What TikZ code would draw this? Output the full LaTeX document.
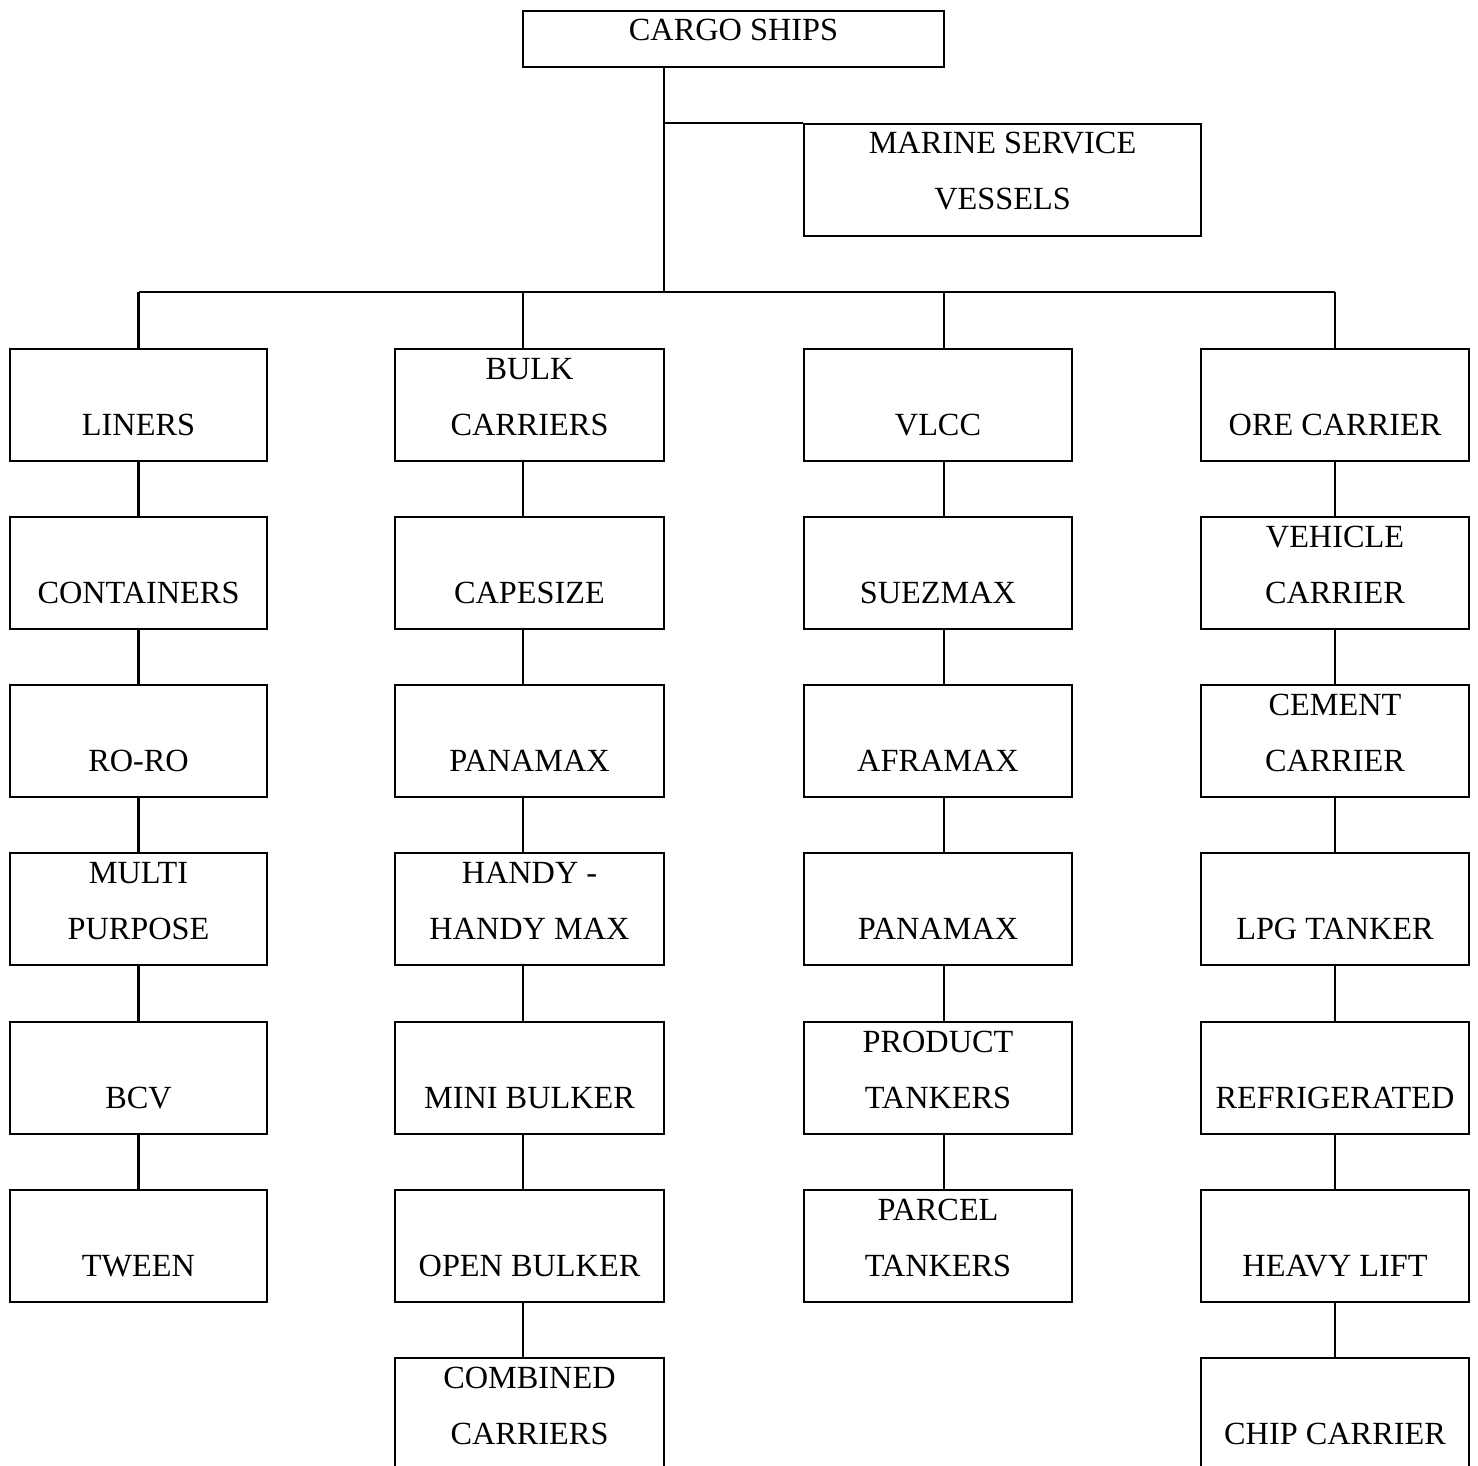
\documentclass[tikz,border=0pt]{standalone}
\usepackage{fontspec}
\setmainfont{Liberation Serif}

\tikzset{
  box/.style={draw, line width=2.2pt, inner sep=0pt, minimum width=268pt, minimum height=112pt,
    align=center, font=\fontsize{32.3}{56}\selectfont, text height=82pt, text depth=22pt},
  link/.style={line width=2.2pt}
}

\begin{document}
\begin{tikzpicture}[x=1pt,y=-1pt]

\useasboundingbox (0,0) rectangle (1478,1466);
\clip (0,0) rectangle (1478,1466);

%% top
\node[box, minimum width=421pt, minimum height=56pt, text height=22pt, text depth=19pt] (cargo) at (733.5,39) {CARGO SHIPS};
\node[box, minimum width=397pt] (marine) at (1002.5,180) {MARINE SERVICE\\VESSELS};

%% first column
\node[box, minimum width=257pt] (liners)     at (138.5,405)  {LINERS};
\node[box, minimum width=257pt] (containers) at (138.5,573)  {CONTAINERS};
\node[box, minimum width=257pt] (roro)       at (138.5,741)  {RO-RO};
\node[box, minimum width=257pt] (multi)      at (138.5,909)  {MULTI\\PURPOSE};
\node[box, minimum width=257pt] (bcv)        at (138.5,1078) {BCV};
\node[box, minimum width=257pt] (tween)      at (138.5,1246) {TWEEN};

%% second column
\node[box, minimum width=269pt] (bulk)     at (529.5,405)  {BULK\\CARRIERS};
\node[box, minimum width=269pt] (capesize) at (529.5,573)  {CAPESIZE};
\node[box, minimum width=269pt] (panamaxB) at (529.5,741)  {PANAMAX};
\node[box, minimum width=269pt] (handy)    at (529.5,909)  {HANDY -\\HANDY MAX};
\node[box, minimum width=269pt] (mini)     at (529.5,1078) {MINI BULKER};
\node[box, minimum width=269pt] (openb)    at (529.5,1246) {OPEN BULKER};
\node[box, minimum width=269pt] (combined) at (529.5,1414) {COMBINED\\CARRIERS};

%% third column
\node[box] (vlcc)     at (938,405)  {VLCC};
\node[box] (suezmax)  at (938,573)  {SUEZMAX};
\node[box] (aframax)  at (938,741)  {AFRAMAX};
\node[box] (panamaxT) at (938,909)  {PANAMAX};
\node[box] (product)  at (938,1078) {PRODUCT\\TANKERS};
\node[box] (parcel)   at (938,1246) {PARCEL\\TANKERS};

%% fourth column
\node[box] (ore)     at (1335,405)  {ORE CARRIER};
\node[box] (vehicle) at (1335,573)  {VEHICLE\\CARRIER};
\node[box] (cement)  at (1335,741)  {CEMENT\\CARRIER};
\node[box] (lpg)     at (1335,909)  {LPG TANKER};
\node[box] (reefer)  at (1335,1078) {REFRIGERATED};
\node[box] (heavy)   at (1335,1246) {HEAVY LIFT};
\node[box] (chip)    at (1335,1414) {CHIP CARRIER};

%% trunk and bus
\coordinate (hub)  at (664,292);
\coordinate (colB) at (523,292);
\coordinate (colC) at (944,292);
\draw[link] (cargo.south -| hub) -- (hub);
\draw[link] (marine.north west) -- (marine.north west -| hub);
\draw[link] (liners.north |- hub) -- (ore.north |- hub);

%% drops
\draw[link] (liners.north |- hub) -- (liners.north);
\draw[link] (colB) -- (colB |- bulk.north);
\draw[link] (colC) -- (colC |- vlcc.north);
\draw[link] (ore.north |- hub) -- (ore.north);

%% first column links
\draw[link] (liners) -- (containers);
\draw[link] (containers) -- (roro);
\draw[link] (roro) -- (multi);
\draw[link] (multi) -- (bcv);
\draw[link] (bcv) -- (tween);

%% second column links
\draw[link] (bulk.south -| colB) -- (capesize.north -| colB);
\draw[link] (capesize.south -| colB) -- (panamaxB.north -| colB);
\draw[link] (panamaxB.south -| colB) -- (handy.north -| colB);
\draw[link] (handy.south -| colB) -- (mini.north -| colB);
\draw[link] (mini.south -| colB) -- (openb.north -| colB);
\draw[link] (openb.south -| colB) -- (combined.north -| colB);

%% third column links
\draw[link] (vlcc.south -| colC) -- (suezmax.north -| colC);
\draw[link] (suezmax.south -| colC) -- (aframax.north -| colC);
\draw[link] (aframax.south -| colC) -- (panamaxT.north -| colC);
\draw[link] (panamaxT.south -| colC) -- (product.north -| colC);
\draw[link] (product.south -| colC) -- (parcel.north -| colC);

%% fourth column links
\draw[link] (ore) -- (vehicle);
\draw[link] (vehicle) -- (cement);
\draw[link] (cement) -- (lpg);
\draw[link] (lpg) -- (reefer);
\draw[link] (reefer) -- (heavy);
\draw[link] (heavy) -- (chip);

\end{tikzpicture}
\end{document}
